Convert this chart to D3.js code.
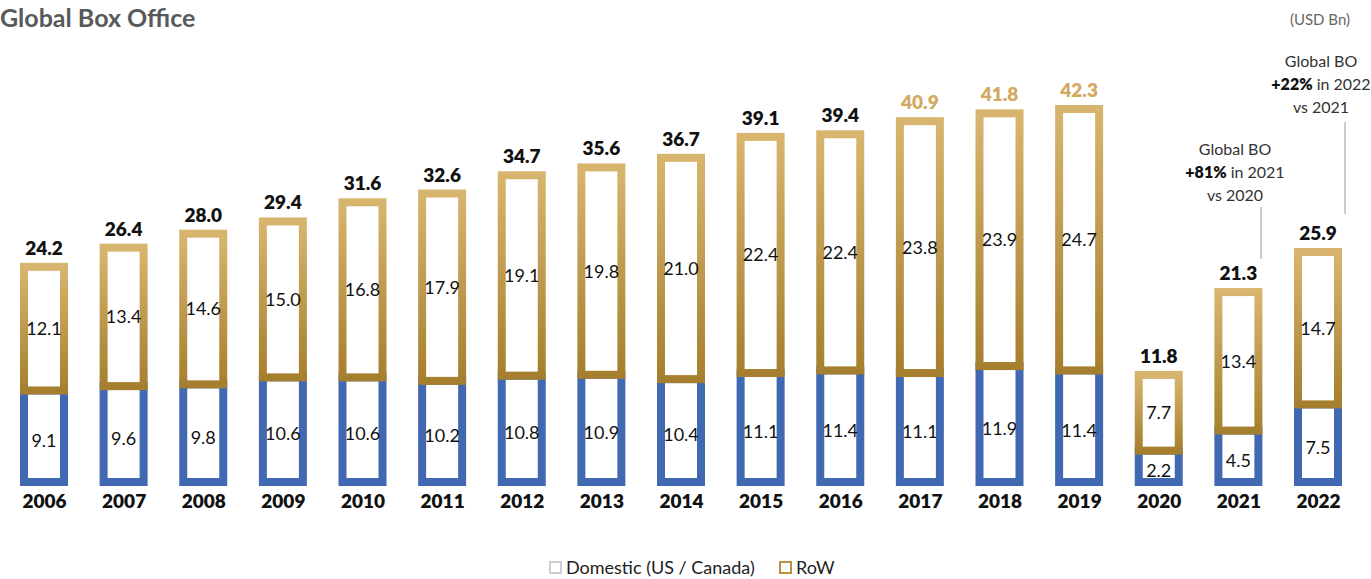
<!DOCTYPE html>
<html>
<head>
<meta charset="utf-8">
<script src="https://cdn.jsdelivr.net/npm/d3@7"></script>
<style>
    body { margin: 0; background: #fff; }
    svg { display: block; font-family: Lato, 'Open Sans', sans-serif; }
</style>
</head>
<body>
<svg id="chart" width="1371" height="579"></svg>
<script>
// data (USD Bn)
let years = ['2006','2007','2008','2009','2010','2011','2012','2013','2014','2015','2016','2017','2018','2019','2020','2021','2022'];
let domestic = [9.1, 9.6, 9.8, 10.6, 10.6, 10.2, 10.8, 10.9, 10.4, 11.1, 11.4, 11.1, 11.9, 11.4, 2.2, 4.5, 7.5];
let row = [12.1, 13.4, 14.6, 15.0, 16.8, 17.9, 19.1, 19.8, 21.0, 22.4, 22.4, 23.8, 23.9, 24.7, 7.7, 13.4, 14.7];
let totals = [24.2, 26.4, 28.0, 29.4, 31.6, 32.6, 34.7, 35.6, 36.7, 39.1, 39.4, 40.9, 41.8, 42.3, 11.8, 21.3, 25.9];
let highlightYears = ['2017','2018','2019']; // totals drawn in gold
let legendItems = ['Domestic (US / Canada)', 'RoW'];

let blue = '#4169b2';
let goldTop = '#d8b56e';
let goldBottom = '#a67f2e';
let goldText = '#d2a95f';

let svg = d3.select('#chart');

// scales: point centres for the bars, linear for the values
// (the source chart has a small offset at the base, so the domain starts a bit below zero)
let x = d3.scalePoint()
    .domain(years)
    .range([44, 1318]);
let y = d3.scaleLinear()
    .domain([-1.4, 42.3])
    .range([486, 105]);

let barW = 48;
let sw = 8; // border thickness of the hollow bars
let base = y.range()[0];

let data = years.map(function(d, i) {
    return { year: d, dom: domestic[i], row: row[i], total: totals[i] };
});

// gradient for the RoW border, light at the top and darker at the bottom
let defs = svg.append('defs');
let grad = defs.append('linearGradient')
    .attr('id', 'gold')
    .attr('x1', 0).attr('y1', 0)
    .attr('x2', 0).attr('y2', 1);
grad.append('stop').attr('offset', '0%').attr('stop-color', goldTop);
grad.append('stop').attr('offset', '100%').attr('stop-color', goldBottom);

// title + unit
svg.append('text')
    .attr('x', 0).attr('y', 27)
    .attr('font-size', 25).attr('font-weight', 700)
    .attr('fill', '#58595b')
    .text('Global Box Office');
svg.append('text')
    .attr('x', 1350).attr('y', 25)
    .attr('text-anchor', 'end')
    .attr('font-size', 15)
    .attr('fill', '#666')
    .text('(USD Bn)');

let bars = svg.append('g').attr('class', 'bars')
    .selectAll('g')
    .data(data)
    .enter()
    .append('g');

// domestic box first, its top edge is covered by the RoW box
bars.append('rect')
    .attr('x', d => x(d.year) - barW / 2 + sw / 2)
    .attr('y', d => y(d.dom) - sw / 2)
    .attr('width', barW - sw)
    .attr('height', d => base - y(d.dom))
    .attr('fill', '#fff')
    .attr('stroke', blue)
    .attr('stroke-width', sw);

bars.append('rect')
    .attr('x', d => x(d.year) - barW / 2 + sw / 2)
    .attr('y', d => y(d.total) + sw / 2)
    .attr('width', barW - sw)
    .attr('height', d => y(d.dom) - y(d.total) - sw)
    .attr('fill', '#fff')
    .attr('stroke', 'url(#gold)')
    .attr('stroke-width', sw);

// segment values
bars.append('text')
    .attr('x', d => x(d.year))
    .attr('y', d => (base + y(d.dom)) / 2)
    .attr('dy', '0.36em')
    .attr('text-anchor', 'middle')
    .attr('font-size', 18)
    .attr('fill', '#111')
    .text(d => d.dom.toFixed(1));
bars.append('text')
    .attr('x', d => x(d.year))
    .attr('y', d => (y(d.dom) + y(d.total)) / 2)
    .attr('dy', '0.36em')
    .attr('text-anchor', 'middle')
    .attr('font-size', 18)
    .attr('fill', '#111')
    .text(d => d.row.toFixed(1));

// totals on top
bars.append('text')
    .attr('x', d => x(d.year))
    .attr('y', d => y(d.total) - 8)
    .attr('text-anchor', 'middle')
    .attr('font-size', 19)
    .attr('font-weight', 800)
    .attr('fill', d => highlightYears.includes(d.year) ? goldText : '#111')
    .text(d => d.total.toFixed(1));

// year axis, no line
let axis = svg.append('g')
    .attr('transform', 'translate(0,' + base + ')')
    .call(d3.axisBottom(x).tickSize(0).tickPadding(9));
axis.select('.domain').remove();
axis.selectAll('text')
    .attr('font-family', 'Lato, sans-serif')
    .attr('font-size', 19)
    .attr('font-weight', 800)
    .attr('fill', '#111');

// growth annotations
let notes = [
    { cx: 1235, top: 150, line: [1261, 207, 259], pct: '+81%', rest: ' in 2021', last: 'vs 2020' },
    { cx: 1321, top: 62, line: [1345, 122, 214], pct: '+22%', rest: ' in 2022', last: 'vs 2021' }
];
notes.forEach(function(n) {
    let t = svg.append('text')
        .attr('text-anchor', 'middle')
        .attr('font-size', 16)
        .attr('fill', '#333');
    t.append('tspan').attr('x', n.cx).attr('y', n.top + 5).text('Global BO');
    let l2 = t.append('tspan').attr('x', n.cx).attr('y', n.top + 28);
    l2.append('tspan').attr('font-weight', 800).attr('fill', '#111').text(n.pct);
    l2.append('tspan').text(n.rest);
    t.append('tspan').attr('x', n.cx).attr('y', n.top + 51).text(n.last);
    svg.append('line')
        .attr('x1', n.line[0]).attr('x2', n.line[0])
        .attr('y1', n.line[1]).attr('y2', n.line[2])
        .attr('stroke', '#999')
        .attr('stroke-width', 1);
});

// legend
let legend = svg.append('g').attr('transform', 'translate(549,561)');
let legendColors = ['#cfcfcf', '#b8903e'];
let legendX = [0, 230];
legendItems.forEach(function(name, i) {
    legend.append('rect')
        .attr('x', legendX[i] + 1).attr('y', 1)
        .attr('width', 11).attr('height', 11)
        .attr('fill', 'none')
        .attr('stroke', legendColors[i])
        .attr('stroke-width', 2);
    legend.append('text')
        .attr('x', legendX[i] + 17).attr('y', 13)
        .attr('font-size', 18)
        .attr('fill', '#222')
        .text(name);
});
</script>
</body>
</html>
